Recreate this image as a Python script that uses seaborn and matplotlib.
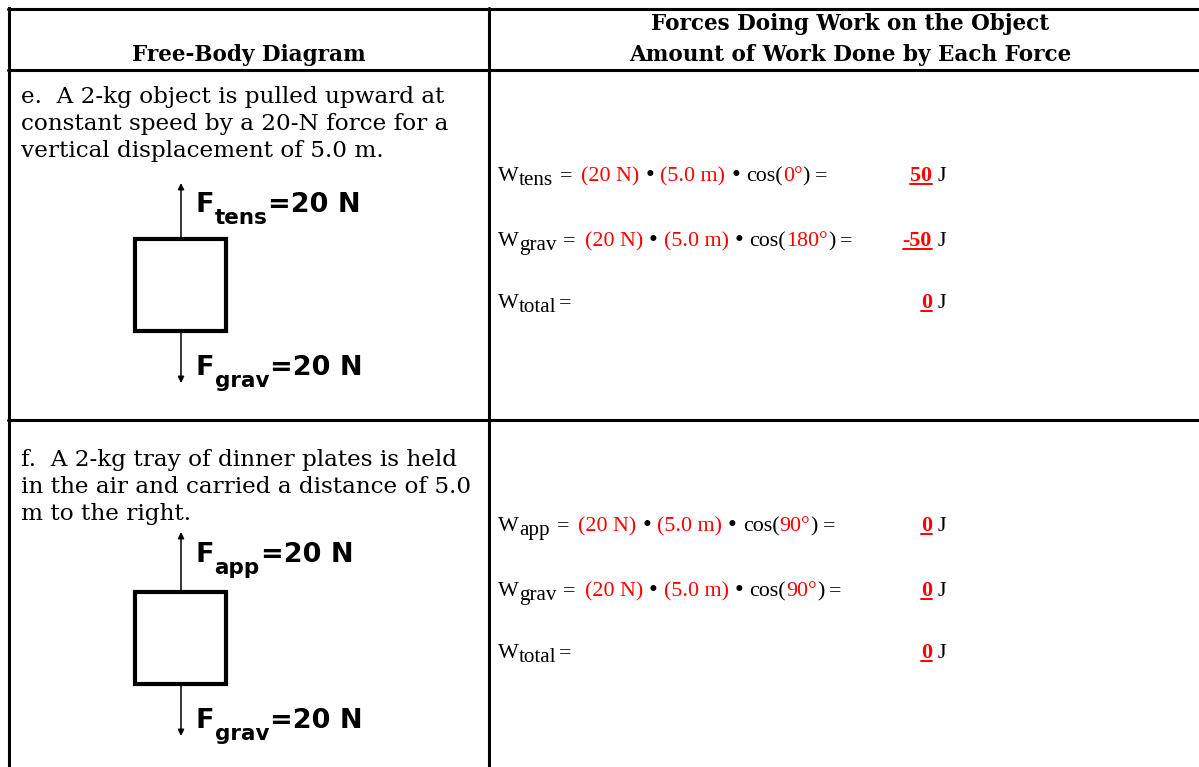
import matplotlib
matplotlib.use("Agg")
import matplotlib.pyplot as plt
from matplotlib.patches import Rectangle
import seaborn as sns

# ---- content ----
header_left = "Free-Body Diagram"
header_right = ["Forces Doing Work on the Object", "Amount of Work Done by Each Force"]
descriptions = [
    ["e.  A 2-kg object is pulled upward at",
     "constant speed by a 20-N force for a",
     "vertical displacement of 5.0 m."],
    ["f.  A 2-kg tray of dinner plates is held",
     "in the air and carried a distance of 5.0",
     "m to the right."],
]
up_forces = ["tens", "app"]
down_forces = ["grav", "grav"]
force_N = [20, 20]
displacement_m = [5.0, 5.0]
angles_up = [0, 90]
angles_down = [180, 90]
work_up = [50, 0]
work_down = [-50, 0]
work_total = [0, 0]

RED = "#ff0000"
SERIF = "Liberation Serif"
BOOK = "DejaVu Serif"
SANS = "DejaVu Sans"

sns.set_theme(style="white")
plt.rcParams["font.family"] = [SERIF, "DejaVu Sans"]
plt.rcParams["text.color"] = "black"

fig, ax = plt.subplots(figsize=(11.99, 7.67), dpi=100)
ax.set_position([0, 0, 1, 1])
ax.set_xlim(0, 1199)
ax.set_ylim(767, 0)
ax.axis("off")
renderer = fig.canvas.get_renderer()


def run(x, y, pieces):
    # place text pieces one after another, measuring each
    for txt, kw in pieces:
        kw = dict(kw)
        dy = kw.pop("dy", 0)
        gap = kw.pop("gap", 0)
        t = ax.text(x, y + dy, txt, va="baseline", ha="left", **kw)
        x += t.get_window_extent(renderer).width + gap
    return x


# ---- table lines ----
lw = 2.2
ax.plot([9, 9], [8, 767], color="black", lw=lw, solid_capstyle="projecting")
ax.plot([489, 489], [8, 767], color="black", lw=lw)
for yy in [9, 70, 420]:
    ax.plot([8, 1199], [yy, yy], color="black", lw=lw)

# ---- headers ----
hdr = dict(ha="center", va="baseline", fontsize=15.5, fontweight="bold",
           family=BOOK, color="black")
ax.text(249, 61, header_left, **hdr)
ax.text(850, 30, header_right[0], **hdr)
ax.text(850, 61, header_right[1], **hdr)

desc_base = [103, 466]
for i in range(2):
    for k, line in enumerate(descriptions[i]):
        ax.text(21, desc_base[i] + 26.8 * k, line, ha="left", va="baseline",
                fontsize=16.7, family=BOOK, color="black")

# ---- free-body diagrams ----
box_top = [237, 590]
up_tip = [183, 532]
lab_up = [212, 562]
lab_dn = [375, 728]
xa = 181
arrow_kw = dict(arrowstyle="-|>", lw=1.1, color="black",
                mutation_scale=9, shrinkA=0, shrinkB=0)
for i in range(2):
    bt = box_top[i]
    ax.add_patch(Rectangle((135, bt + 2), 91, 92, fill=False, lw=3.0,
                           edgecolor="black"))
    ax.annotate("", xy=(xa, up_tip[i]), xytext=(xa, bt), arrowprops=arrow_kw)
    ax.annotate("", xy=(xa, bt + 96 + 50), xytext=(xa, bt + 96),
                arrowprops=arrow_kw)
    big = dict(fontsize=19.5, fontweight="bold", family=SANS, color="black")
    small = dict(fontsize=15.5, fontweight="bold", family=SANS, color="black",
                 dy=12, gap=1)
    for name, yb in [(up_forces[i], lab_up[i]), (down_forces[i], lab_dn[i])]:
        run(196, yb, [("F", big), (name, small), (f"={force_N[i]} N", big)])

# ---- work equations ----
eq_base = [[181, 246, 308], [531, 596, 658]]
F = dict(fontsize=15.8, family=SERIF, color="black")
R = dict(fontsize=15.8, family=SERIF, color=RED)
DOT = dict(fontsize=18, family=SERIF, color="black", dy=1)
SUB = dict(fontsize=15.2, family=SERIF, color="black", dy=4)
ANS = dict(fontsize=15.8, family=SERIF, color=RED, fontweight="bold")
ans_right = 932

for i in range(2):
    rows = [(up_forces[i], angles_up[i]), (down_forces[i], angles_down[i])]
    for r, (name, ang) in enumerate(rows):
        yb = eq_base[i][r]
        run(498, yb, [
            ("W", F), (name, {**SUB, "gap": 7}),
            ("=", {**F, "gap": 9}),
            (f"({force_N[i]} N)", {**R, "gap": 6}),
            ("\u2022", {**DOT, "gap": 6}),
            (f"({displacement_m[i]:.1f} m)", {**R, "gap": 6}),
            ("\u2022", {**DOT, "gap": 6}),
            ("cos(", F), (f"{ang}\u00b0", R), (")", {**F, "gap": 5}),
            ("=", F),
        ])
    # total row
    run(498, eq_base[i][2], [("W", F), ("total", {**SUB, "gap": 2}), ("=", F)])
    for r, w in enumerate([work_up[i], work_down[i], work_total[i]]):
        yb = eq_base[i][r]
        t = ax.text(ans_right, yb, f"{w}", ha="right", va="baseline", **ANS)
        bb = t.get_window_extent(renderer)
        ax.plot([ans_right - bb.width, ans_right], [yb + 3, yb + 3],
                color=RED, lw=1.4)
        ax.text(ans_right + 6, yb, "J", ha="left", va="baseline", **F)

fig.savefig("out.png", dpi=100)
